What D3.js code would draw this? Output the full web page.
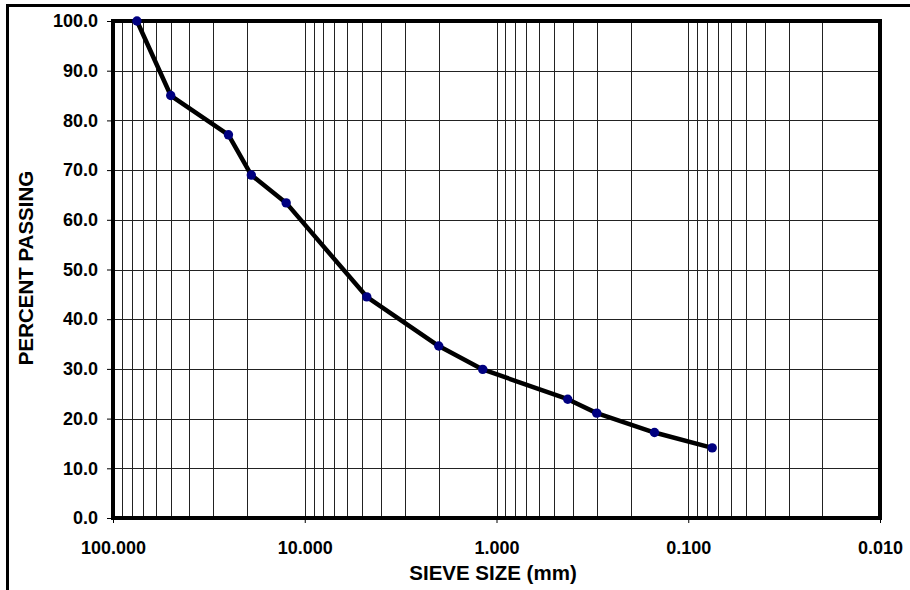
<!DOCTYPE html>
<meta charset="utf-8">
<style>
  body { margin: 0; background: #fff; }
  svg text { font-family: "Liberation Sans", Arial, sans-serif; font-weight: bold; fill: #000; }
</style>
<body>
<div id="chart"></div>
<script src="https://d3js.org/d3.v7.min.js"></script>
<script>
  // sieve sizes (mm) and percent passing
  var sieveSize = [75, 50, 25, 19, 12.5, 4.75, 2.0, 1.18, 0.425, 0.3, 0.15, 0.075];
  var passing = [100.0, 85.0, 77.1, 69.0, 63.4, 44.5, 34.6, 29.9, 23.9, 21.1, 17.2, 14.1];
  var xTicks = [100, 10, 1, 0.1, 0.01];
  var yTicks = [0, 10, 20, 30, 40, 50, 60, 70, 80, 90, 100];

  var W = 910, H = 590;
  var margin = { top: 21, left: 113 },
    width = 880 - margin.left,
    height = 518 - margin.top;

  var svg = d3.select("#chart").append("svg")
    .attr("width", W).attr("height", H);

  // outer frame (only top + left edges are visible)
  svg.append("path")
    .attr("d", "M7.5,590 V5.5 H910")
    .attr("fill", "none").attr("stroke", "#000").attr("stroke-width", 3);

  var g = svg.append("g").attr("transform", "translate(" + margin.left + "," + margin.top + ")");

  var x = d3.scaleLog().domain([100, 0.01]).range([0, width]);
  var y = d3.scaleLinear().domain([0, 100]).range([height, 0]);

  // minor + major vertical grid lines
  var vlines = [];
  [10, 1, 0.1, 0.01].forEach(function (dec) {
    for (var k = 1; k <= 9; k++) vlines.push(dec * k);
  });
  vlines = vlines.filter(function (v) { return v < 100 && v > 0.01; });
  g.selectAll(".vgrid").data(vlines).enter().append("line")
    .attr("x1", function (d) { return Math.round(x(d)) + 0.5; })
    .attr("x2", function (d) { return Math.round(x(d)) + 0.5; })
    .attr("y1", 0).attr("y2", height)
    .attr("stroke", "#222").attr("stroke-width", 1);

  g.selectAll(".hgrid").data(yTicks.slice(1, -1)).enter().append("line")
    .attr("x1", 0).attr("x2", width)
    .attr("y1", function (d) { return Math.round(y(d)) + 0.5; })
    .attr("y2", function (d) { return Math.round(y(d)) + 0.5; })
    .attr("stroke", "#222").attr("stroke-width", 1);

  // axes
  var yAxis = g.append("g")
    .call(d3.axisLeft(y).tickValues(yTicks).tickFormat(d3.format(".1f")).tickSize(6).tickPadding(9));
  yAxis.select(".domain").remove();
  yAxis.selectAll("text").style("font-size", "18px");

  var xAxis = g.append("g").attr("transform", "translate(0," + height + ")")
    .call(d3.axisBottom(x).tickValues(xTicks).tickFormat(d3.format(".3f")).tickSize(5).tickPadding(18));
  xAxis.select(".domain").remove();
  xAxis.selectAll("text").style("font-size", "18px");

  // plot border
  g.append("rect")
    .attr("x", 0).attr("y", 0).attr("width", width).attr("height", height)
    .attr("fill", "none").attr("stroke", "#000").attr("stroke-width", 4);

  // data line + markers
  var pts = sieveSize.map(function (s, i) { return [s, passing[i]]; });
  g.append("path")
    .datum(pts)
    .attr("d", d3.line().x(function (d) { return x(d[0]); }).y(function (d) { return y(d[1]); }))
    .attr("fill", "none").attr("stroke", "#000").attr("stroke-width", 4.5)
    .attr("stroke-linejoin", "round");

  g.selectAll(".pt").data(pts).enter().append("circle")
    .attr("cx", function (d) { return x(d[0]); })
    .attr("cy", function (d) { return y(d[1]); })
    .attr("r", 4.7)
    .attr("fill", "#000080");

  // titles
  svg.append("text")
    .attr("x", 493).attr("y", 580)
    .attr("text-anchor", "middle")
    .style("font-size", "20.5px")
    .text("SIEVE SIZE (mm)");

  svg.append("text")
    .attr("transform", "translate(33,268) rotate(-90)")
    .attr("text-anchor", "middle")
    .style("font-size", "20.5px")
    .text("PERCENT PASSING");
</script>
</body>
